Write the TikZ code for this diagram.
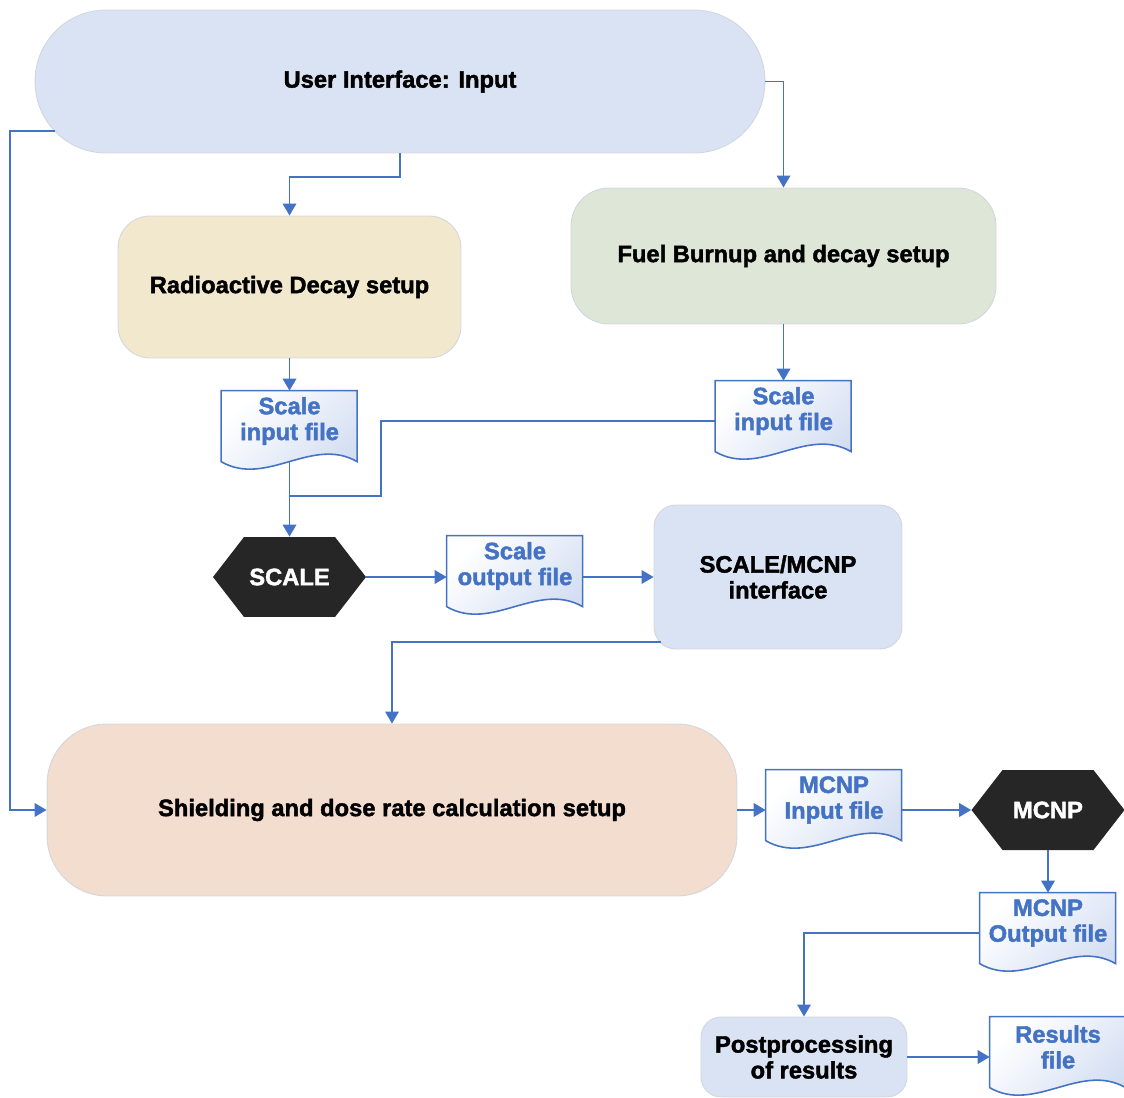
\documentclass[tikz,border=0pt]{standalone}
\usepackage{fontspec}
\setmainfont{Liberation Sans}[BoldFeatures={FakeBold=1.8}]
\usetikzlibrary{arrows.meta,calc}
\definecolor{uiblue}{RGB}{218,227,243}
\definecolor{decaysand}{RGB}{241,232,205}
\definecolor{fuelgreen}{RGB}{222,230,215}
\definecolor{shieldpeach}{RGB}{242,221,207}
\definecolor{linkblue}{RGB}{68,114,196}
\definecolor{docfill}{RGB}{210,221,242}
\definecolor{hexblack}{RGB}{38,38,38}
\definecolor{edgegray}{RGB}{210,214,222}
\pgfdeclarelayer{background}
\pgfsetlayers{background,main}

\begin{document}
\begin{tikzpicture}[
    x=0.02cm, y=-0.02cm,
    >={Triangle[length=0.24cm, width=0.27cm]},
    every node/.style={font=\fontsize{13.5}{14.7}\selectfont\bfseries, align=center, inner sep=0pt},
    stepbox/.style={fill=#1, draw=edgegray, line width=0.5pt},
    docnode/.style={minimum width=2.72cm, minimum height=1.2cm, text=linkblue},
    hexnode/.style={minimum width=3.06cm, minimum height=1.6cm, text=white, fill=white,
        path picture={\fill[hexblack] (path picture bounding box.west)
            -- ([xshift=0.62cm]path picture bounding box.north west)
            -- ([xshift=-0.62cm]path picture bounding box.north east)
            -- (path picture bounding box.east)
            -- ([xshift=-0.62cm]path picture bounding box.south east)
            -- ([xshift=0.62cm]path picture bounding box.south west) -- cycle;}},
    linkline/.style={draw=linkblue, line width=1.05pt},
    link/.style={linkline, ->}
]

\useasboundingbox (0,0) rectangle (1124,1097);

% Setup stages
\node[stepbox=uiblue, minimum width=14.6cm, minimum height=2.86cm, rounded corners=1.42cm] (ui) at (400,81.5) {User Interface: Input};
\node[stepbox=decaysand, minimum width=6.86cm, minimum height=2.84cm, rounded corners=0.64cm] (decay) at (289.5,287) {Radioactive Decay setup};
\node[stepbox=fuelgreen, minimum width=8.5cm, minimum height=2.72cm, rounded corners=0.76cm] (fuel) at (783.5,256) {Fuel Burnup and decay setup};

% SCALE part
\node[docnode] (sinL) at (289.5,421) {Scale\\input file};
\node[docnode] (sinR) at (783.5,411) {Scale\\input file};
\node[hexnode] (scale) at (289.5,577) {SCALE};
\node[docnode] (sout) at (515,566) {Scale\\output file};
\node[stepbox=uiblue, minimum width=4.96cm, minimum height=2.88cm, rounded corners=0.44cm] (iface) at (778,577) {SCALE/MCNP\\interface};

% MCNP part
\node[stepbox=shieldpeach, minimum width=13.8cm, minimum height=3.44cm, rounded corners=1.2cm] (shield) at (392,810) {Shielding and dose rate calculation setup};
\node[docnode] (minp) at (834,800) {MCNP\\Input file};
\node[hexnode] (mcnp) at (1048,810) {MCNP};
\node[docnode] (mout) at (1048,923) {MCNP\\Output file};
\node[stepbox=uiblue, minimum width=4.12cm, minimum height=1.6cm, rounded corners=0.4cm] (post) at (804,1057) {Postprocessing\\of results};
\node[docnode] (res) at (1058,1047) {Results\\file};

% document outlines behind the file labels
\begin{pgfonlayer}{background}
\foreach \d in {sinL,sinR,sout,minp,mout,res}
    \draw[linkline, line width=0.9pt, top color=white, bottom color=docfill, shading angle=45, shift={(\d.north west)}]
        (0,0) -- (136,0) -- (136,71) .. controls (91,45) and (45,97) .. (0,71) -- cycle;
\end{pgfonlayer}

% Connectors
\coordinate (uiexit) at (55,131);
\coordinate (rail) at (10,131);
\coordinate (join) at (289.5,496);
\coordinate (bend) at (381,496);
\coordinate (ifexit) at (661,642);

\draw[link] (ui.south) -- ++(0,24) -| (decay.north);
\draw[link] (ui.east) -| (fuel.north);
\draw[link] (uiexit) -- (rail) |- (shield.west);
\draw[link] (decay.south) -- (sinL.north);
\draw[link] (fuel.south) -- (sinR.north);
\draw[link] ($(sinL.south)+(0,11)$) -- (scale.north);
\draw[linkline] ($(sinR.west)+(0,10)$) -| (bend) -- (join);
\draw[link] (scale.east) -- (scale.east -| sout.west);
\draw[link] (iface.west -| sout.east) -- (iface.west);
\draw[link] (ifexit) -| (shield.north);
\draw[link] (shield.east) -- (shield.east -| minp.west);
\draw[link] (mcnp.west -| minp.east) -- (mcnp.west);
\draw[link] (mcnp.south) -- (mout.north);
\draw[link] ($(mout.west)+(0,10)$) -| (post.north);
\draw[link] (post.east) -- (post.east -| res.west);

\end{tikzpicture}
\end{document}
